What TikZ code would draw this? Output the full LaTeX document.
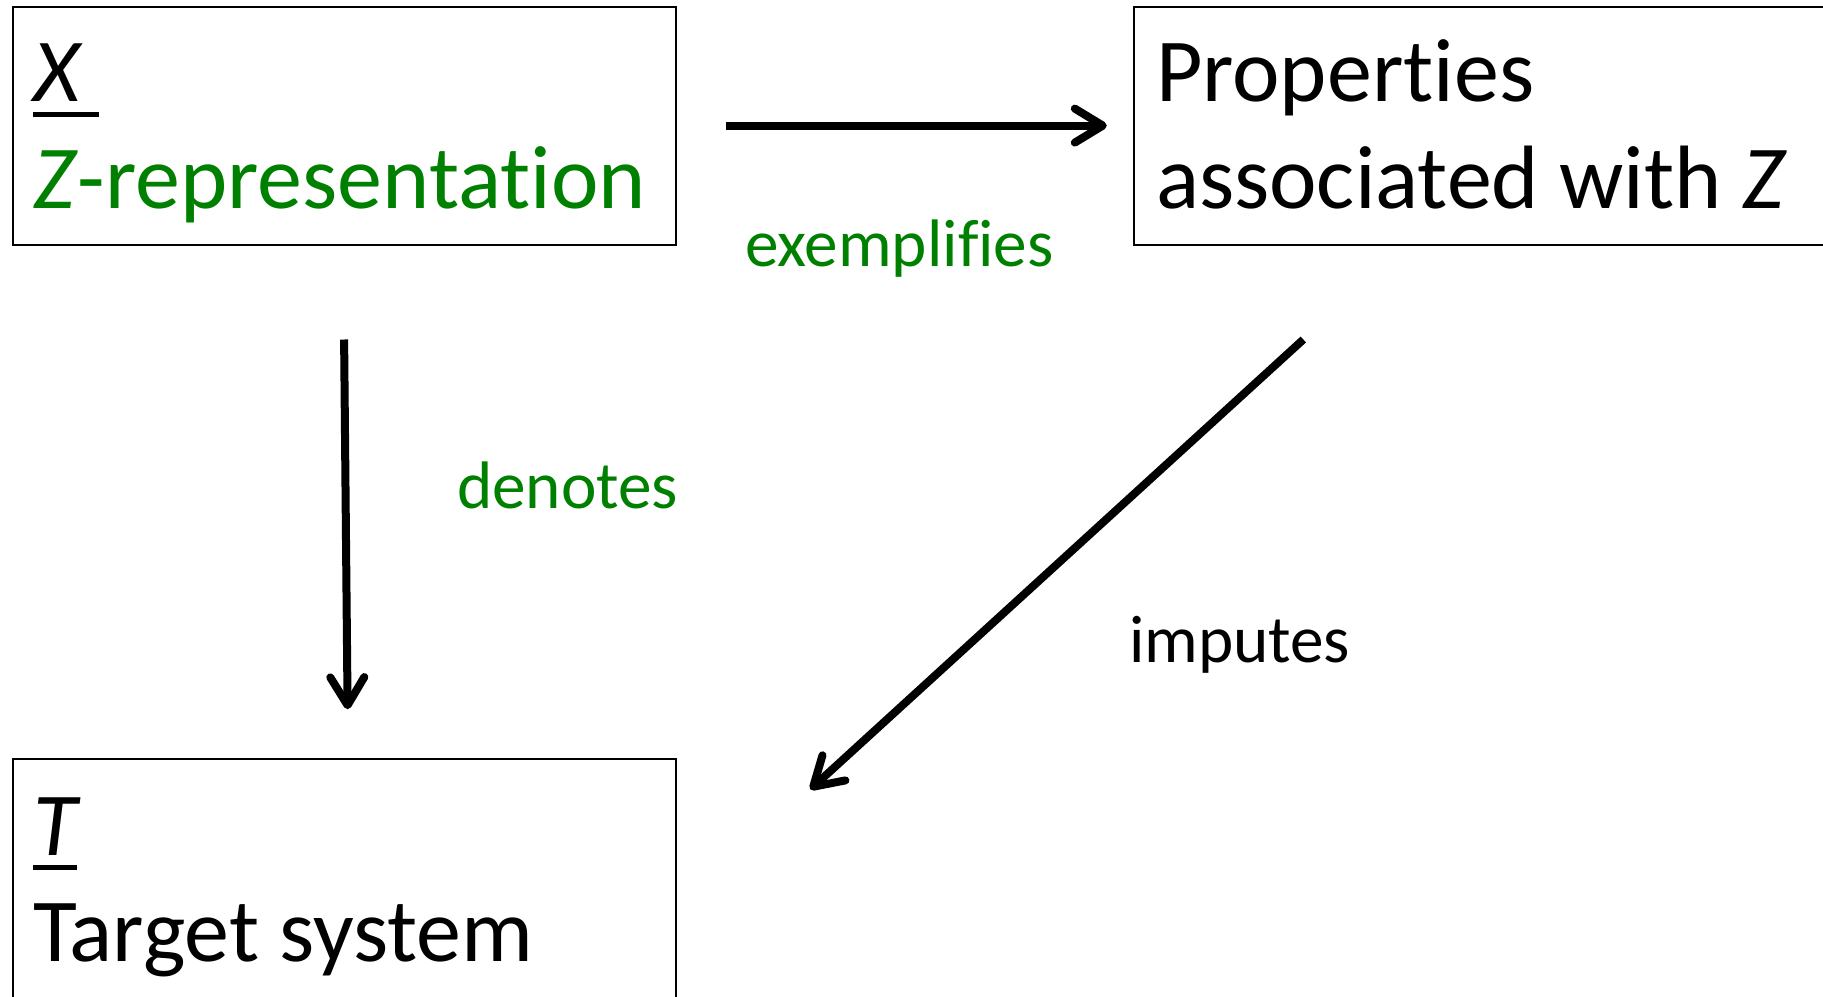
\documentclass[tikz,border=0pt]{standalone}
\usepackage{fontspec}
\setmainfont{Carlito}[RawFeature={-liga;-dlig;-clig}]
\usetikzlibrary{arrows.meta}
\definecolor{pptgreen}{HTML}{008000}
\newcommand\bigtxt{\fontsize{45pt}{54pt}\selectfont}
\newcommand\lbltxt{\fontsize{33.6pt}{40pt}\selectfont}
\newcommand\myul[2]{\rlap{\rule[-7.6pt]{#1}{2.6pt}}#2}
\begin{document}
\begin{tikzpicture}[x=0.5pt,y=-0.5pt,
  box/.style={draw=black,line width=1pt},
  txt/.style={inner sep=0pt,outer sep=0pt,anchor=base west,font=\bigtxt},
  lbl/.style={inner sep=0pt,outer sep=0pt,anchor=base west,font=\lbltxt},
  arr/.style={line width=4pt,-{Straight Barb[length=14pt,width=17pt,round]}}]
\clip (0,0) rectangle (1823,996);
\fill[white] (0,0) rectangle (1823,996);
% boxes
\draw[box] (12.8,7) rectangle (675.5,245.3);
\draw[box] (1133.6,7) rectangle (1840,245.3);
\draw[box] (12.8,759.2) rectangle (675.5,1010);
% box texts
\node[txt] (x) at (33,101.7) {\myul{33pt}{\itshape X}};
\node[txt,text=pptgreen] (zrep) at (33,208.3) {\textit{Z}-representation};
\node[txt] (prop) at (1156,101.7) {Properties};
\node[txt] (assoc) at (1156,208.3) {associated with \textit{Z}};
\node[txt] (t) at (33,855) {\myul{22pt}{\itshape T}};
\node[txt] (target) at (33,961.7) {Target system};
% labels
\node[lbl,text=pptgreen] (exempl) at (745,266.7) {exemplifies};
\node[lbl,text=pptgreen] (denot) at (457,508.3) {denotes};
\node[lbl] (imput) at (1129,662.7) {imputes};
% arrow ends
\coordinate (h1) at (725.5,125.6);
\coordinate (h2) at (1106.8,125.6);
\coordinate (v1) at (344.1,339.5);
\coordinate (v2) at (347.6,709.2);
\coordinate (d1) at (1303.3,339.5);
\coordinate (d2) at (810.3,789.4);
\draw[arr] (h1) -- (h2);
\draw[arr] (v1) -- (v2);
\draw[arr] (d1) -- (d2);
\end{tikzpicture}
\end{document}
